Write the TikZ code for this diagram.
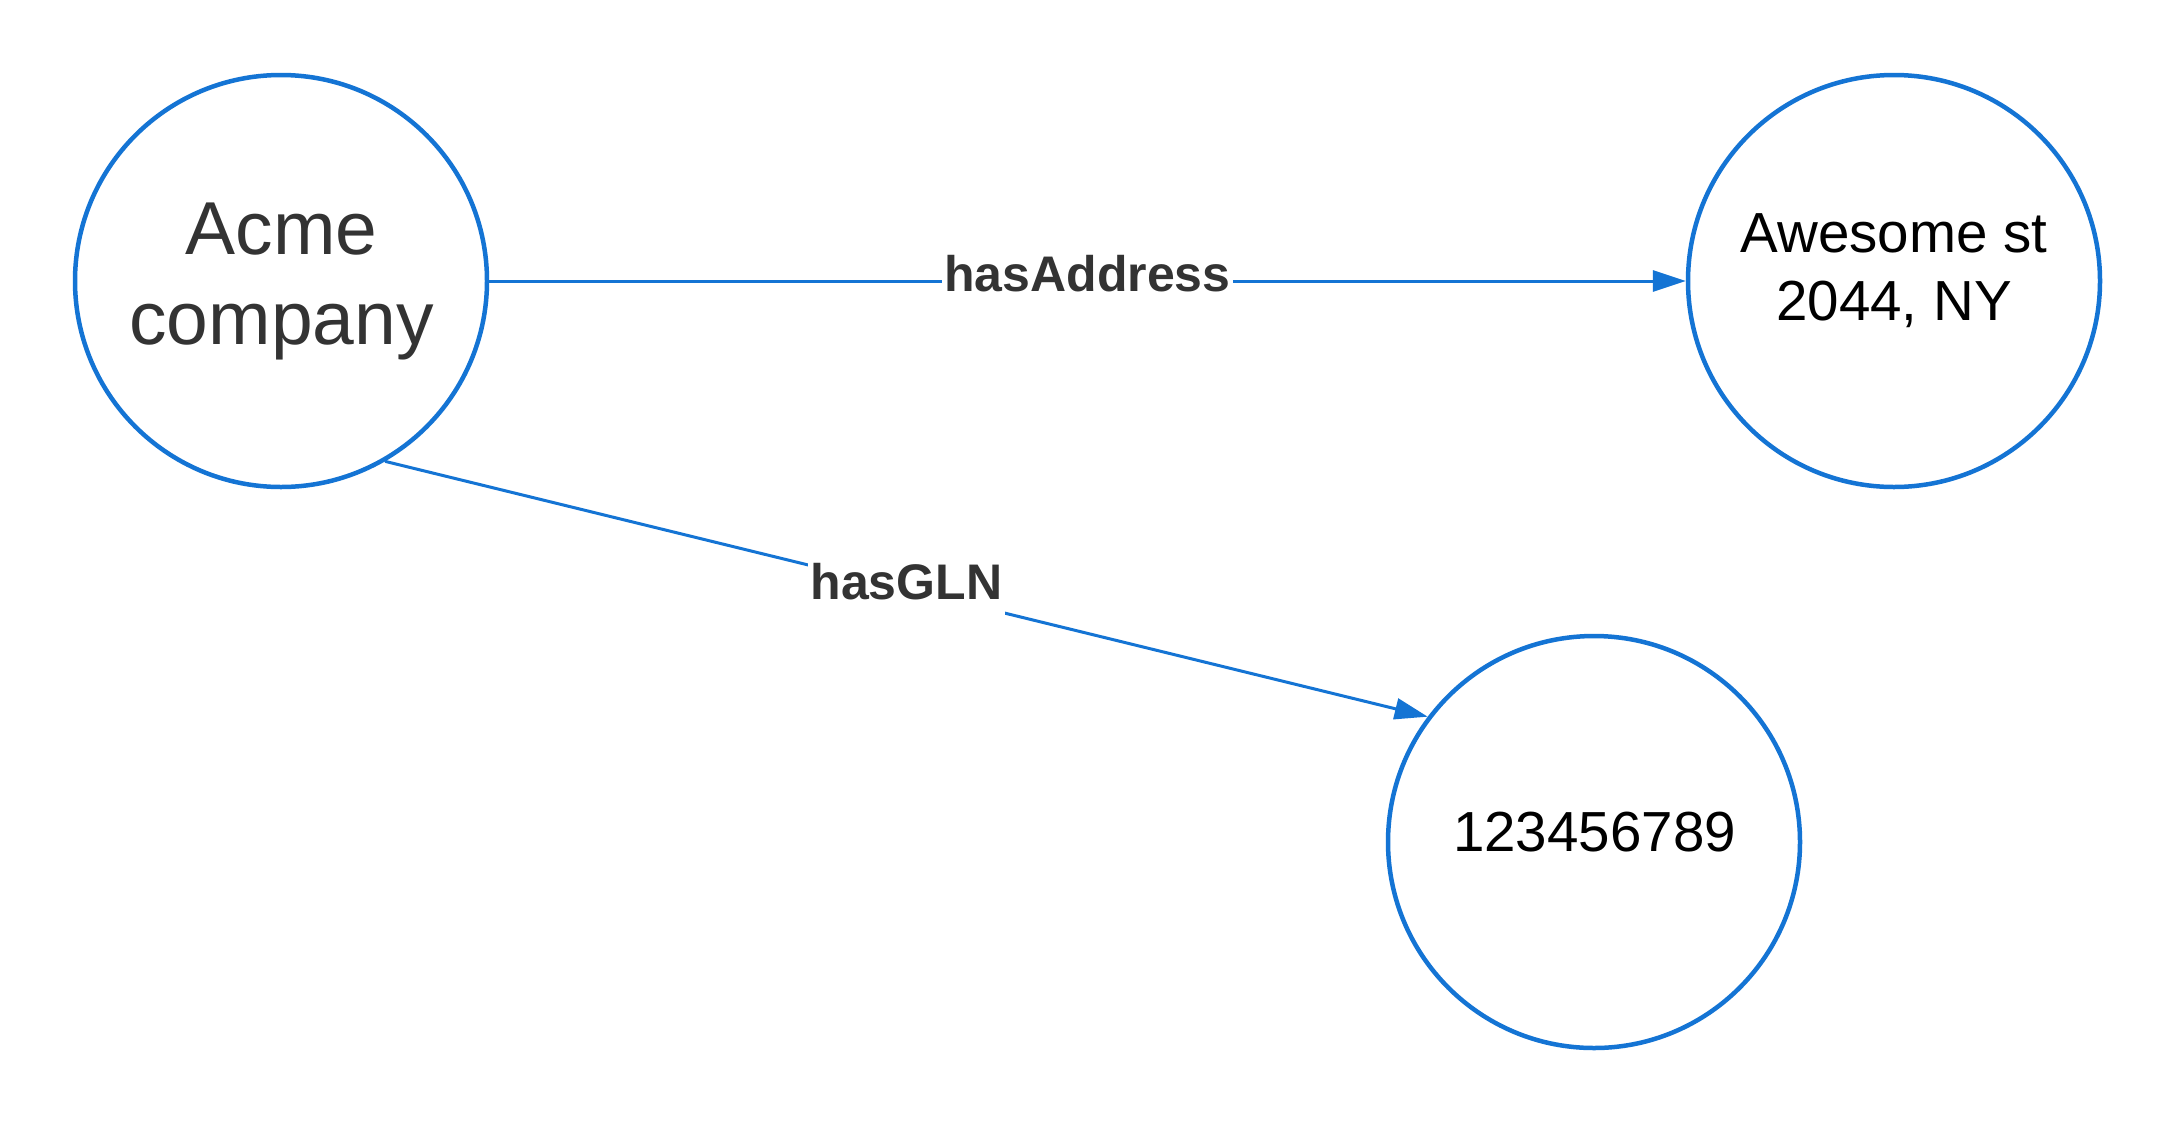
\documentclass[tikz,border=0pt]{standalone}
\usepackage{fontspec}
\setmainfont{Liberation Sans}
\usetikzlibrary{arrows.meta}
\definecolor{lucidblue}{HTML}{1474D4}
\definecolor{txtgray}{HTML}{333333}
\begin{document}
\begin{tikzpicture}[x=1pt,y=-1pt,
  circ/.style={circle,draw=lucidblue,line width=4.5pt,minimum size=412pt,inner sep=0pt},
  conn/.style={draw=lucidblue,line width=3pt,-{Triangle[length=33pt,width=21pt]}},
  lbl/.style={fill=white,font=\fontsize{50}{59}\selectfont\bfseries,text=txtgray,
    inner xsep=2.5pt,inner ysep=0pt,text height=37.25pt,text depth=16.5pt},
  ctext/.style={align=center,inner sep=0pt}]
\fill[white] (0,0) rectangle (2175,1125);
\useasboundingbox (0,0) rectangle (2175,1125);

\node[circ] (acme) at (281,281) {};
\node[circ] (addr) at (1894,281) {};
\node[circ] (gln) at (1594,842) {};

\node[ctext,font=\fontsize{75}{90}\selectfont,text=txtgray] (acmeTxt) at (281.5,281) {Acme\\company};
\node[ctext,font=\fontsize{56.5}{67.5}\selectfont,text=black] (addrTxt) at (1894,270.5) {Awesome st\\2044, NY};
\node[ctext,font=\fontsize{56.5}{66}\selectfont,text=black] (glnTxt) at (1594.5,832.5) {123456789};

\draw[conn] (acme) -- node[lbl] (lblAddr) {hasAddress} (addr);
\draw[conn] (acme.-60.5) -- node[lbl] (lblGLN) {hasGLN} (gln.143.6);
\end{tikzpicture}
\end{document}
